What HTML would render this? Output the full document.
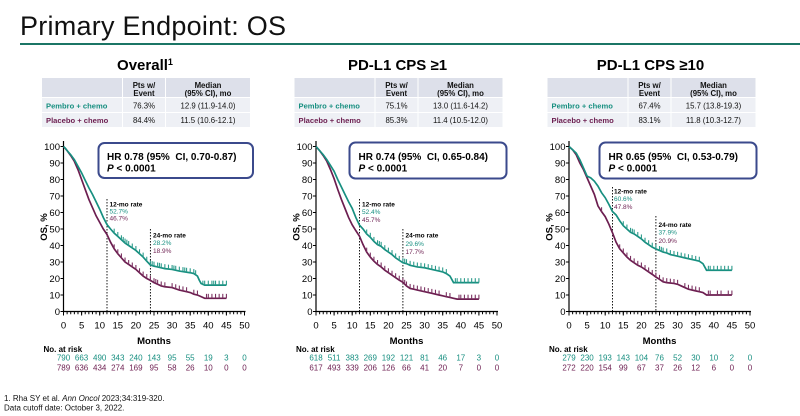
<!DOCTYPE html>
<html><head><meta charset="utf-8"><style>
html,body{margin:0;padding:0;background:#fff;}
svg{display:block;font-family:"Liberation Sans",Arial,sans-serif;}
.pre{white-space:pre;}
</style></head><body>
<svg width="800" height="416" viewBox="0 0 800 416" xmlns="http://www.w3.org/2000/svg">
<defs>
<marker id="mt" markerUnits="userSpaceOnUse" markerWidth="1" markerHeight="1" overflow="visible" refX="0" refY="0"><line x1="0" y1="0" x2="0" y2="2.7" stroke="#2a9a8a" stroke-width="0.3"/></marker>
<marker id="mp" markerUnits="userSpaceOnUse" markerWidth="1" markerHeight="1" overflow="visible" refX="0" refY="0"><line x1="0" y1="0" x2="0" y2="2.7" stroke="#7a3060" stroke-width="0.3"/></marker>
<g id="axes">
  <line x1="63.5" y1="141" x2="63.5" y2="312" stroke="#000" stroke-width="1.2"/>
  <line x1="62" y1="146" x2="62" y2="312" stroke="#000" stroke-width="3" stroke-dasharray="1 15.5"/>
  <line x1="63" y1="311.5" x2="245.5" y2="311.5" stroke="#000" stroke-width="1.2"/>
  <line x1="63" y1="313" x2="245.5" y2="313" stroke="#000" stroke-width="2.5" stroke-dasharray="1 2.62"/>
  <line x1="63" y1="313.5" x2="245.5" y2="313.5" stroke="#000" stroke-width="4" stroke-dasharray="1 17.1"/>
  <g font-size="9.5" text-anchor="end" fill="#000">
    <text x="60" y="315">0</text><text x="60" y="298.5">10</text><text x="60" y="282">20</text>
    <text x="60" y="265.5">30</text><text x="60" y="249">40</text><text x="60" y="232.5">50</text>
    <text x="60" y="216">60</text><text x="60" y="199.5">70</text><text x="60" y="183">80</text>
    <text x="60" y="166.5">90</text><text x="60" y="150">100</text>
  </g>
  <g font-size="9.5" text-anchor="middle" fill="#000">
    <text x="63.5" y="328.5">0</text><text x="81.6" y="328.5">5</text><text x="99.7" y="328.5">10</text>
    <text x="117.8" y="328.5">15</text><text x="135.9" y="328.5">20</text><text x="154" y="328.5">25</text>
    <text x="172.1" y="328.5">30</text><text x="190.2" y="328.5">35</text><text x="208.3" y="328.5">40</text>
    <text x="226.4" y="328.5">45</text><text x="244.5" y="328.5">50</text>
  </g>
  <text x="154" y="344" font-size="9.5" font-weight="bold" text-anchor="middle">Months</text>
  <text transform="translate(47,227) rotate(-90)" font-size="9.5" font-weight="bold" text-anchor="middle">OS, %</text>
  <text x="43.5" y="352" font-size="8" font-weight="bold">No. at risk</text>
  <rect x="42" y="78" width="80" height="19" fill="#dde0ea"/>
  <rect x="123" y="78" width="42" height="19" fill="#dde0ea"/>
  <rect x="166" y="78" width="84" height="19" fill="#dde0ea"/>
  <rect x="42" y="98" width="80" height="14" fill="#eef0f5"/>
  <rect x="123" y="98" width="42" height="14" fill="#eef0f5"/>
  <rect x="166" y="98" width="84" height="14" fill="#eef0f5"/>
  <rect x="42" y="113" width="80" height="14" fill="#eef0f5"/>
  <rect x="123" y="113" width="42" height="14" fill="#eef0f5"/>
  <rect x="166" y="113" width="84" height="14" fill="#eef0f5"/>
  <g font-size="7.8" font-weight="bold" text-anchor="middle" fill="#111">
    <text x="144" y="88">Pts w/</text><text x="144" y="96">Event</text>
    <text x="208" y="88">Median</text><text x="208" y="96">(95% CI), mo</text>
  </g>
  <text x="46" y="108.5" font-size="7.6" font-weight="bold" fill="#178f80">Pembro + chemo</text>
  <text x="46" y="123" font-size="7.6" font-weight="bold" fill="#6c1e50">Placebo + chemo</text>
</g>
</defs>
<rect width="800" height="416" fill="#fff"/>
<text x="20" y="35" font-size="27" textLength="266" fill="#111">Primary Endpoint: OS</text>
<rect x="20" y="43" width="780" height="2" fill="#1b7565"/>

<!-- PANEL 1 -->
<g>
  <use href="#axes"/>
  <text x="145" y="70" font-size="15" font-weight="bold" text-anchor="middle">Overall<tspan font-size="9" dy="-5">1</tspan></text>
  <g font-size="7.8" text-anchor="middle" fill="#111">
    <text x="144" y="108.5">76.3%</text><text x="208" y="108.5">12.9 (11.9-14.0)</text>
    <text x="144" y="123">84.4%</text><text x="208" y="123">11.5 (10.6-12.1)</text>
  </g>
  <rect x="98.5" y="143" width="154.5" height="35" rx="6" fill="#fff" stroke="#3b4a8c" stroke-width="2"/>
  <text x="107" y="160" font-size="10" font-weight="bold" class="pre">HR 0.78 (95%  CI, 0.70-0.87)</text>
  <text x="107" y="171.5" font-size="10" font-weight="bold"><tspan font-style="italic">P</tspan> &lt; 0.0001</text>
  <line x1="107" y1="199" x2="107" y2="311" stroke="#000" stroke-width="0.9" stroke-dasharray="1.5 1.5"/>
  <line x1="150.4" y1="229" x2="150.4" y2="311" stroke="#000" stroke-width="0.9" stroke-dasharray="1.5 1.5"/>
  <g font-size="6.5">
    <text x="109.5" y="206.5" font-weight="bold">12-mo rate</text>
    <text x="109.5" y="213.5" fill="#178f80">52.7%</text>
    <text x="109.5" y="220.5" fill="#6c1e50">46.7%</text>
    <text x="153" y="237.5" font-weight="bold">24-mo rate</text>
    <text x="153" y="245" fill="#178f80">28.2%</text>
    <text x="153" y="253" fill="#6c1e50">18.9%</text>
  </g>
  <g transform="translate(63.5,311.5) scale(3.62,-1.65)" fill="none">
    <polyline vector-effect="non-scaling-stroke" stroke="#6c1e50" stroke-width="1.7" points="0,100 1,97.5 2,94.5 3,91 4,86 5,80 6,74 7,68 8,63 9,58 10,54 11,50 12,46.7 13,42 14,38 15,35 16,32.5 17,30 18,28.5 19,27 20,25.5 21,23.5 22,21.5 23,20 24,18.9 25,17.5 26,16.5 27,15.5 28,15 30,14.5 32,13 34,12 35,11.5 36,10.5 37,10 38,9 39,8 45,8"/>
    <polyline stroke="none" marker-start="url(#mp)" marker-mid="url(#mp)" marker-end="url(#mp)" points="14,38 15,35 16,32.5 17,30 18,28.5 19,27 20,25.5 21,23.5 22,21.5 23,20 24,18.9 25,17.5 25.5,17 26,16.5 27,15.5 28,15 30,14.5 31,13.8 32,13 33,12.5 34,12 36,10.5 37,10 39.5,8 40,8 41,8 42,8 43,8 44,8 45,8"/>
    <polyline vector-effect="non-scaling-stroke" stroke="#178f80" stroke-width="1.7" points="0,100 0.5,99 1,97.5 2,95 3,92 4,88 5,84 6,79.5 7,75 8,71 9,66.5 10,62 11,57 12,52.7 13,50 14,47.5 15,45.5 16,43.5 17,41.5 18,40 19,38.5 20,37 21,35 22,33 23,30.5 24,28.2 25,27.5 26,27 27,26.5 28,26 30,25.5 32,24.5 35,23.5 36,23 37,21.5 37.5,19 38,17 39,16 45,16"/>
    <polyline stroke="none" marker-start="url(#mt)" marker-mid="url(#mt)" marker-end="url(#mt)" points="14,47.5 15,45.5 16,43.5 16.5,42.5 17,41.5 17.5,40.8 18,40 19,38.5 20,37 21,35 22,33 23,30.5 24,28.2 24.5,27.8 25,27.5 26,27 26.5,26.8 27,26.5 28,26 29,25.7 30,25.5 30.5,25.2 31,25 32,24.5 33,24.2 33.5,24 34,23.8 35,23.5 36,23 36.5,22.3 38.5,16 39,16 40,16 41,16 41.5,16 42,16 43,16 44,16 45,16"/>
  </g>
  <g font-size="8" text-anchor="middle" fill="#178f80">
    <text x="63.5" y="360.5">790</text><text x="81.6" y="360.5">663</text><text x="99.7" y="360.5">490</text><text x="117.8" y="360.5">343</text><text x="135.9" y="360.5">240</text><text x="154" y="360.5">143</text><text x="172.1" y="360.5">95</text><text x="190.2" y="360.5">55</text><text x="208.3" y="360.5">19</text><text x="226.4" y="360.5">3</text><text x="244.5" y="360.5">0</text>
  </g>
  <g font-size="8" text-anchor="middle" fill="#6c1e50">
    <text x="63.5" y="370.5">789</text><text x="81.6" y="370.5">636</text><text x="99.7" y="370.5">434</text><text x="117.8" y="370.5">274</text><text x="135.9" y="370.5">169</text><text x="154" y="370.5">95</text><text x="172.1" y="370.5">58</text><text x="190.2" y="370.5">26</text><text x="208.3" y="370.5">10</text><text x="226.4" y="370.5">0</text><text x="244.5" y="370.5">0</text>
  </g>
</g>

<!-- PANEL 2 -->
<g transform="translate(252.5,0)">
  <use href="#axes"/>
  <text x="145" y="70" font-size="15" font-weight="bold" text-anchor="middle">PD-L1 CPS ≥1</text>
  <g font-size="7.8" text-anchor="middle" fill="#111">
    <text x="144" y="108.5">75.1%</text><text x="208" y="108.5">13.0 (11.6-14.2)</text>
    <text x="144" y="123">85.3%</text><text x="208" y="123">11.4 (10.5-12.0)</text>
  </g>
  <rect x="97" y="142.5" width="157" height="36" rx="6" fill="#fff" stroke="#3b4a8c" stroke-width="2"/>
  <text x="106" y="160" font-size="10" font-weight="bold" class="pre">HR 0.74 (95%  CI, 0.65-0.84)</text>
  <text x="106" y="171.5" font-size="10" font-weight="bold"><tspan font-style="italic">P</tspan> &lt; 0.0001</text>
  <line x1="107" y1="199" x2="107" y2="311" stroke="#000" stroke-width="0.9" stroke-dasharray="1.5 1.5"/>
  <line x1="150.4" y1="229" x2="150.4" y2="311" stroke="#000" stroke-width="0.9" stroke-dasharray="1.5 1.5"/>
  <g font-size="6.5">
    <text x="109.5" y="206.5" font-weight="bold">12-mo rate</text>
    <text x="109.5" y="214" fill="#178f80">52.4%</text>
    <text x="109.5" y="222" fill="#6c1e50">45.7%</text>
    <text x="153" y="237.5" font-weight="bold">24-mo rate</text>
    <text x="153" y="246" fill="#178f80">29.6%</text>
    <text x="153" y="254" fill="#6c1e50">17.7%</text>
  </g>
  <g transform="translate(63.5,311.5) scale(3.62,-1.65)" fill="none">
    <polyline vector-effect="non-scaling-stroke" stroke="#6c1e50" stroke-width="1.7" points="0,100 1,97.5 2,94.5 3,91 4,86 5,80.5 6,74 7,68 8,62.5 9,57 10,52.5 11,49 12,45.7 13,40.5 14,36 15,33 16,30.5 17,28.5 18,27 19,25 20,23.5 21,22 22,20.5 23,19 24,17.7 25,15.5 26,14 27,13.5 28,13 30,12 32,11 34,10 35,9.5 36,9 37,8.5 38,8 39,7.5 45,7.5"/>
    <polyline stroke="none" marker-start="url(#mp)" marker-mid="url(#mp)" marker-end="url(#mp)" points="14,36 15,33 16,30.5 17,28.5 18,27 19,25 20,23.5 21,22 22,20.5 23,19 24,17.7 24.5,16.5 25,15.5 26,14 27,13.5 28,13 29,12.5 30,12 31,11.5 32,11 33,10.5 34,10 36,9 37,8.5 39.5,7.5 40,7.5 41,7.5 42,7.5 43,7.5 44,7.5 45,7.5"/>
    <polyline vector-effect="non-scaling-stroke" stroke="#178f80" stroke-width="1.7" points="0,100 1,97.5 2,95 3,92 4,88.5 5,85 6,80 7,75.5 8,71 9,66.5 10,62.5 11,57 12,52.4 13,50 14,47 15,45 16,42.5 17,40.5 18,39.5 19,37.5 20,36 21,34.5 22,32.5 23,31 24,29.6 25,29 26,28 28,27 30,26.5 32,25.5 34,24.5 35,24 36,23 37,21.5 37.5,19.5 38,17.5 45,17.5"/>
    <polyline stroke="none" marker-start="url(#mt)" marker-mid="url(#mt)" marker-end="url(#mt)" points="14,47 15,45 16,42.5 17,40.5 17.5,40 18,39.5 19,37.5 20,36 21,34.5 22,32.5 23,31 24,29.6 24.5,29.3 25,29 26,28 27,27.5 28,27 29,26.8 30,26.5 31,26 32,25.5 33,25 34,24.5 35,24 36,23 38.5,17.5 39,17.5 40,17.5 41,17.5 42,17.5 43,17.5 44,17.5 45,17.5"/>
  </g>
  <g font-size="8" text-anchor="middle" fill="#178f80">
    <text x="63.5" y="360.5">618</text><text x="81.6" y="360.5">511</text><text x="99.7" y="360.5">383</text><text x="117.8" y="360.5">269</text><text x="135.9" y="360.5">192</text><text x="154" y="360.5">121</text><text x="172.1" y="360.5">81</text><text x="190.2" y="360.5">46</text><text x="208.3" y="360.5">17</text><text x="226.4" y="360.5">3</text><text x="244.5" y="360.5">0</text>
  </g>
  <g font-size="8" text-anchor="middle" fill="#6c1e50">
    <text x="63.5" y="370.5">617</text><text x="81.6" y="370.5">493</text><text x="99.7" y="370.5">339</text><text x="117.8" y="370.5">206</text><text x="135.9" y="370.5">126</text><text x="154" y="370.5">66</text><text x="172.1" y="370.5">41</text><text x="190.2" y="370.5">20</text><text x="208.3" y="370.5">7</text><text x="226.4" y="370.5">0</text><text x="244.5" y="370.5">0</text>
  </g>
</g>

<!-- PANEL 3 -->
<g transform="translate(505.5,0)">
  <use href="#axes"/>
  <text x="145" y="70" font-size="15" font-weight="bold" text-anchor="middle">PD-L1 CPS ≥10</text>
  <g font-size="7.8" text-anchor="middle" fill="#111">
    <text x="144" y="108.5">67.4%</text><text x="208" y="108.5">15.7 (13.8-19.3)</text>
    <text x="144" y="123">83.1%</text><text x="208" y="123">11.8 (10.3-12.7)</text>
  </g>
  <rect x="94" y="142.5" width="157" height="36" rx="6" fill="#fff" stroke="#3b4a8c" stroke-width="2"/>
  <text x="103" y="160" font-size="10" font-weight="bold" class="pre">HR 0.65 (95%  CI, 0.53-0.79)</text>
  <text x="103" y="171.5" font-size="10" font-weight="bold"><tspan font-style="italic">P</tspan> &lt; 0.0001</text>
  <line x1="107" y1="187" x2="107" y2="311" stroke="#000" stroke-width="0.9" stroke-dasharray="1.5 1.5"/>
  <line x1="150.4" y1="216" x2="150.4" y2="311" stroke="#000" stroke-width="0.9" stroke-dasharray="1.5 1.5"/>
  <g font-size="6.5">
    <text x="108.5" y="193.5" font-weight="bold">12-mo rate</text>
    <text x="108.5" y="201" fill="#178f80">60.6%</text>
    <text x="108.5" y="209" fill="#6c1e50">47.8%</text>
    <text x="153" y="227" font-weight="bold">24-mo rate</text>
    <text x="153" y="234.5" fill="#178f80">37.9%</text>
    <text x="153" y="243" fill="#6c1e50">20.9%</text>
  </g>
  <g transform="translate(63.5,311.5) scale(3.62,-1.65)" fill="none">
    <polyline vector-effect="non-scaling-stroke" stroke="#6c1e50" stroke-width="1.7" points="0,100 1,98 2,95 3,90 4,86 5,81 6,76 7,71 8,64 9,60.5 10,57.5 11,53 12,47.8 13,42 14,38 15,35.5 16,33 17,31 18,29.5 19,28 20,27 21,25.5 22,24 23,22.5 24,20.9 25,19.5 26,18 27,17.5 29,17 30,16.5 31,15.5 32,14.5 33,13.5 35,12.5 36,12 37,11.5 38,10 45,10"/>
    <polyline stroke="none" marker-start="url(#mp)" marker-mid="url(#mp)" marker-end="url(#mp)" points="9,60.5 14,38 15,35.5 16,33 17,31 18,29.5 19,28 20,27 21,25.5 22,24 23,22.5 24,20.9 25,19.5 26,18 27,17.5 28,17.2 29,17 30,16.5 32,14.5 33,13.5 34,13 35,12.5 36,12 38.5,10 39,10 41,10 42,10 44,10 45,10"/>
    <polyline vector-effect="non-scaling-stroke" stroke="#178f80" stroke-width="1.7" points="0,100 1,98 2,96 3,92 4,87 5,82 6,81 7,79 8,76 9,72 10,69 11,65 12,60.6 13,58.5 14,55 15,52 16,50 17,48 18,47 19,45.5 20,44 21,42 22,40.5 23,39 24,37.9 25,37 26,36 27,35.5 28,34.5 30,33.5 32,32.5 35,31 36,30.5 37,29 37.5,27 38,25 45,25"/>
    <polyline stroke="none" marker-start="url(#mt)" marker-mid="url(#mt)" marker-end="url(#mt)" points="15,52 16,50 17,48 17.5,47.5 18,47 19,45.5 20,44 21,42 22,40.5 23,39 24,37.9 25,37 25.5,36.5 26,36 27,35.5 28,34.5 29,34 30,33.5 31,33 32,32.5 33,32 34,31.5 35,31 36,30.5 38.5,25 39,25 40,25 41,25 42,25 43,25 44,25 45,25"/>
  </g>
  <g font-size="8" text-anchor="middle" fill="#178f80">
    <text x="63.5" y="360.5">279</text><text x="81.6" y="360.5">230</text><text x="99.7" y="360.5">193</text><text x="117.8" y="360.5">143</text><text x="135.9" y="360.5">104</text><text x="154" y="360.5">76</text><text x="172.1" y="360.5">52</text><text x="190.2" y="360.5">30</text><text x="208.3" y="360.5">10</text><text x="226.4" y="360.5">2</text><text x="244.5" y="360.5">0</text>
  </g>
  <g font-size="8" text-anchor="middle" fill="#6c1e50">
    <text x="63.5" y="370.5">272</text><text x="81.6" y="370.5">220</text><text x="99.7" y="370.5">154</text><text x="117.8" y="370.5">99</text><text x="135.9" y="370.5">67</text><text x="154" y="370.5">37</text><text x="172.1" y="370.5">26</text><text x="190.2" y="370.5">12</text><text x="208.3" y="370.5">6</text><text x="226.4" y="370.5">0</text><text x="244.5" y="370.5">0</text>
  </g>
</g>

<text x="4" y="401" font-size="8" fill="#111">1. Rha SY et al. <tspan font-style="italic">Ann Oncol</tspan> 2023;34:319-320.</text>
<text x="4" y="410.5" font-size="8" fill="#111">Data cutoff date: October 3, 2022.</text>
</svg>
</body></html>
